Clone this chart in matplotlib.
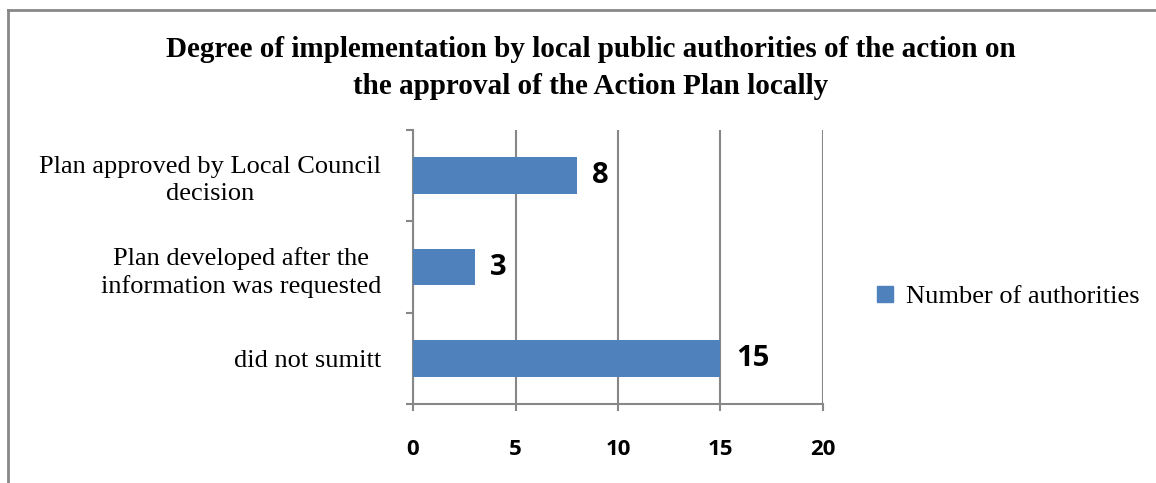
import matplotlib.pyplot as plt
from matplotlib.lines import Line2D
from matplotlib.patches import Patch
import numpy as np

# categories listed top to bottom as they appear on the chart
categories = ['Plan approved by Local Council\ndecision',
              'Plan developed after the\ninformation was requested',
              'did not sumitt']
values = [8, 3, 15]
series_name = 'Number of authorities'
xticks = [0, 5, 10, 15, 20]
title = ('Degree of implementation by local public authorities of the action on\n'
         'the approval of the Action Plan locally')

bar_color = '#4F81BD'
grid_color = '#878787'

fig = plt.figure(figsize=(11.56, 4.83), dpi=100)
ax = fig.add_axes([0.3573, 0.1636, 0.3546, 0.5672])

pos = np.arange(len(categories))[::-1]
ax.barh(pos, values, height=0.4, color=bar_color, zorder=3)

ax.set_xlim(0, 20)
ax.set_ylim(-0.5, len(categories) - 0.5)
ax.set_xticks(xticks)
ax.set_xticklabels([str(t) for t in xticks], fontfamily='Open Sans',
                   fontweight='bold', fontsize=16)
ax.tick_params(axis='x', length=5, width=1.5, color=grid_color, pad=20)

ax.set_yticks(pos)
ax.set_yticklabels(categories, fontfamily='Liberation Serif', fontsize=19,
                   multialignment='center', linespacing=1.3)
ax.tick_params(axis='y', which='major', length=0, pad=23)
ax.set_yticks(np.arange(len(categories) + 1) - 0.5, minor=True)
ax.tick_params(axis='y', which='minor', length=5, width=1.5, color=grid_color)

ax.grid(axis='x', color=grid_color, linewidth=1.5, zorder=0)
for s in ['top', 'right']:
    ax.spines[s].set_visible(False)
for s in ['left', 'bottom']:
    ax.spines[s].set_color(grid_color)
    ax.spines[s].set_linewidth(1.5)

for p, v in zip(pos, values):
    ax.text(v + 0.75, p, str(v), va='center', ha='left',
            fontfamily='Open Sans', fontweight='bold', fontsize=21)

fig.text(0.511, 0.859, title, ha='center', va='center',
         fontfamily='Liberation Serif', fontweight='bold', fontsize=21,
         linespacing=1.45)

fig.legend(handles=[Patch(color=bar_color, label=series_name)],
           loc='center left', bbox_to_anchor=(0.738, 0.385), frameon=False,
           prop={'family': 'Liberation Serif', 'size': 19},
           handlelength=0.6, handleheight=0.6, handletextpad=0.5)

# chart area border
fig.add_artist(Line2D([0.0069, 1.0], [0.979, 0.979], color='#888888', linewidth=2))
fig.add_artist(Line2D([0.0069, 0.0069], [0.0, 0.979], color='#888888', linewidth=2))

fig.savefig('out.png', dpi=100)
